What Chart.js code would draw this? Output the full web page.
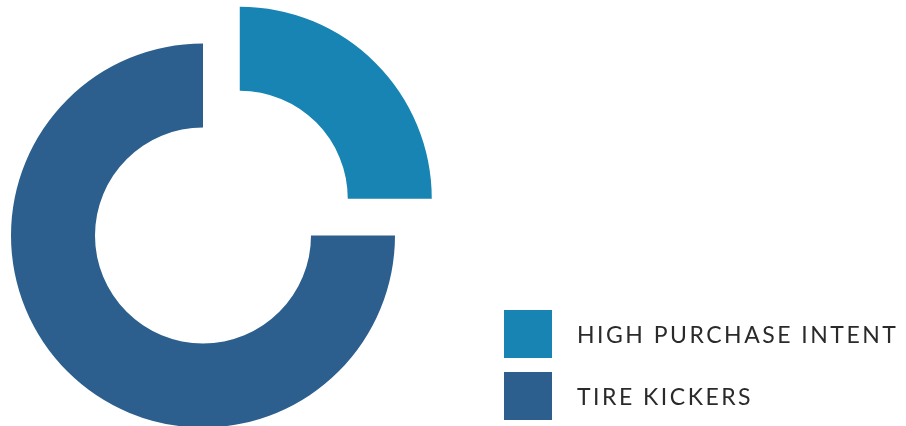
<!DOCTYPE html>
<html>
<head>
<meta charset="utf-8">
<script src="https://cdn.jsdelivr.net/npm/chart.js@4.4.1/dist/chart.umd.min.js"></script>
<style>
    html, body { margin: 0; padding: 0; background: #fff; }
    .wrap { position: relative; width: 906px; height: 426px; overflow: hidden; }
    #donut { position: absolute; left: 0; top: 0; }
    .legend { position: absolute; left: 504px; top: 310px; font-family: Lato, "Open Sans", sans-serif; }
    .legend__item { display: flex; align-items: center; height: 48px; margin-bottom: 14px; }
    .legend__box { width: 48px; height: 48px; margin-right: 25px; }
    .legend__text { font-size: 23px; letter-spacing: 2.5px; color: #2a2a2a; font-weight: 400; white-space: nowrap; }
</style>
</head>
<body>
<div class="wrap">
    <canvas id="donut" width="906" height="426"></canvas>
    <div class="legend"></div>
</div>
<script>
const labels = ['HIGH PURCHASE INTENT', 'TIRE KICKERS'];
const values = [25, 75];
const colors = ['#1884b4', '#2c5f8d'];
const offsets = [208, 0];

function loadLegend() {
    const legend = document.querySelector('.legend');
    labels.forEach((l, i) => {
        const item = document.createElement('div');
        item.className = 'legend__item';
        item.innerHTML = `<div class="legend__box" style="background:${colors[i]}"></div><span class="legend__text">${l}</span>`;
        legend.append(item);
    });
}

const canva = document.querySelector('#donut');
new Chart(canva, {
    type: 'doughnut',
    data: {
        labels: labels,
        datasets: [
            {
                data: values,
                backgroundColor: colors,
                borderWidth: 0,
                offset: offsets,
                hoverOffset: 0,
                clip: false
            }
        ]
    },
    options: {
        responsive: false,
        animation: false,
        radius: 192,
        cutout: '56.25%',
        layout: {
            padding: { left: 0, right: 500, top: 45, bottom: 0 }
        },
        plugins: {
            legend: { display: false },
            tooltip: { enabled: false }
        }
    }
});
loadLegend();
</script>
</body>
</html>
